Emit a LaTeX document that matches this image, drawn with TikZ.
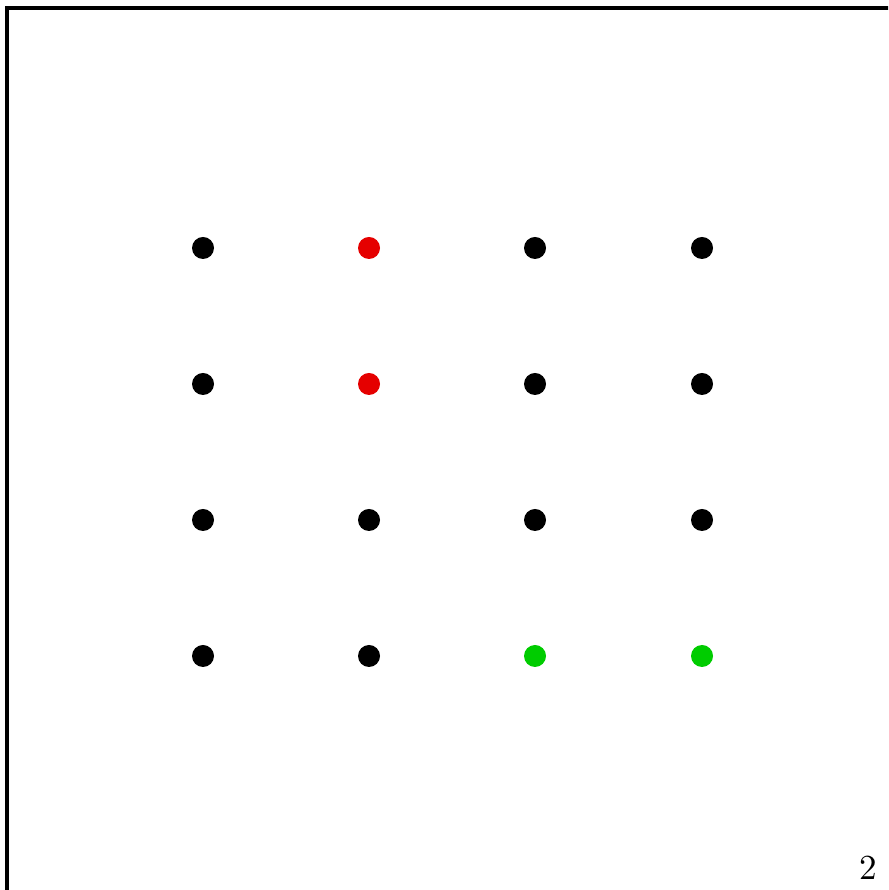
\documentclass[tikz,border=0pt]{standalone}
\begin{document}
\begin{tikzpicture}[draw = black]
\useasboundingbox (0,0) rectangle (8.88,8.90);
\clip (0,0) rectangle (8.88,8.90);
\draw[line width = 1pt] (0.07,-1) rectangle (10,8.82);
\foreach \x/\y in {2.03/6.42, 5.35/6.42, 7.02/6.42, 2.03/5.06, 5.35/5.06, 7.02/5.06, 2.03/3.70, 3.69/3.70, 5.35/3.70, 7.02/3.70, 2.03/2.34, 3.69/2.34}
  \fill[black] (\x,\y) circle (0.11cm);
\fill[red!90!black] (3.69,6.42) circle (0.11cm);
\fill[red!90!black] (3.69,5.06) circle (0.11cm);
\fill[green!80!black] (5.35,2.34) circle (0.11cm);
\fill[green!80!black] (7.02,2.34) circle (0.11cm);
\node (page) at (8.68,0.22) {2};
\end{tikzpicture}
\end{document}
